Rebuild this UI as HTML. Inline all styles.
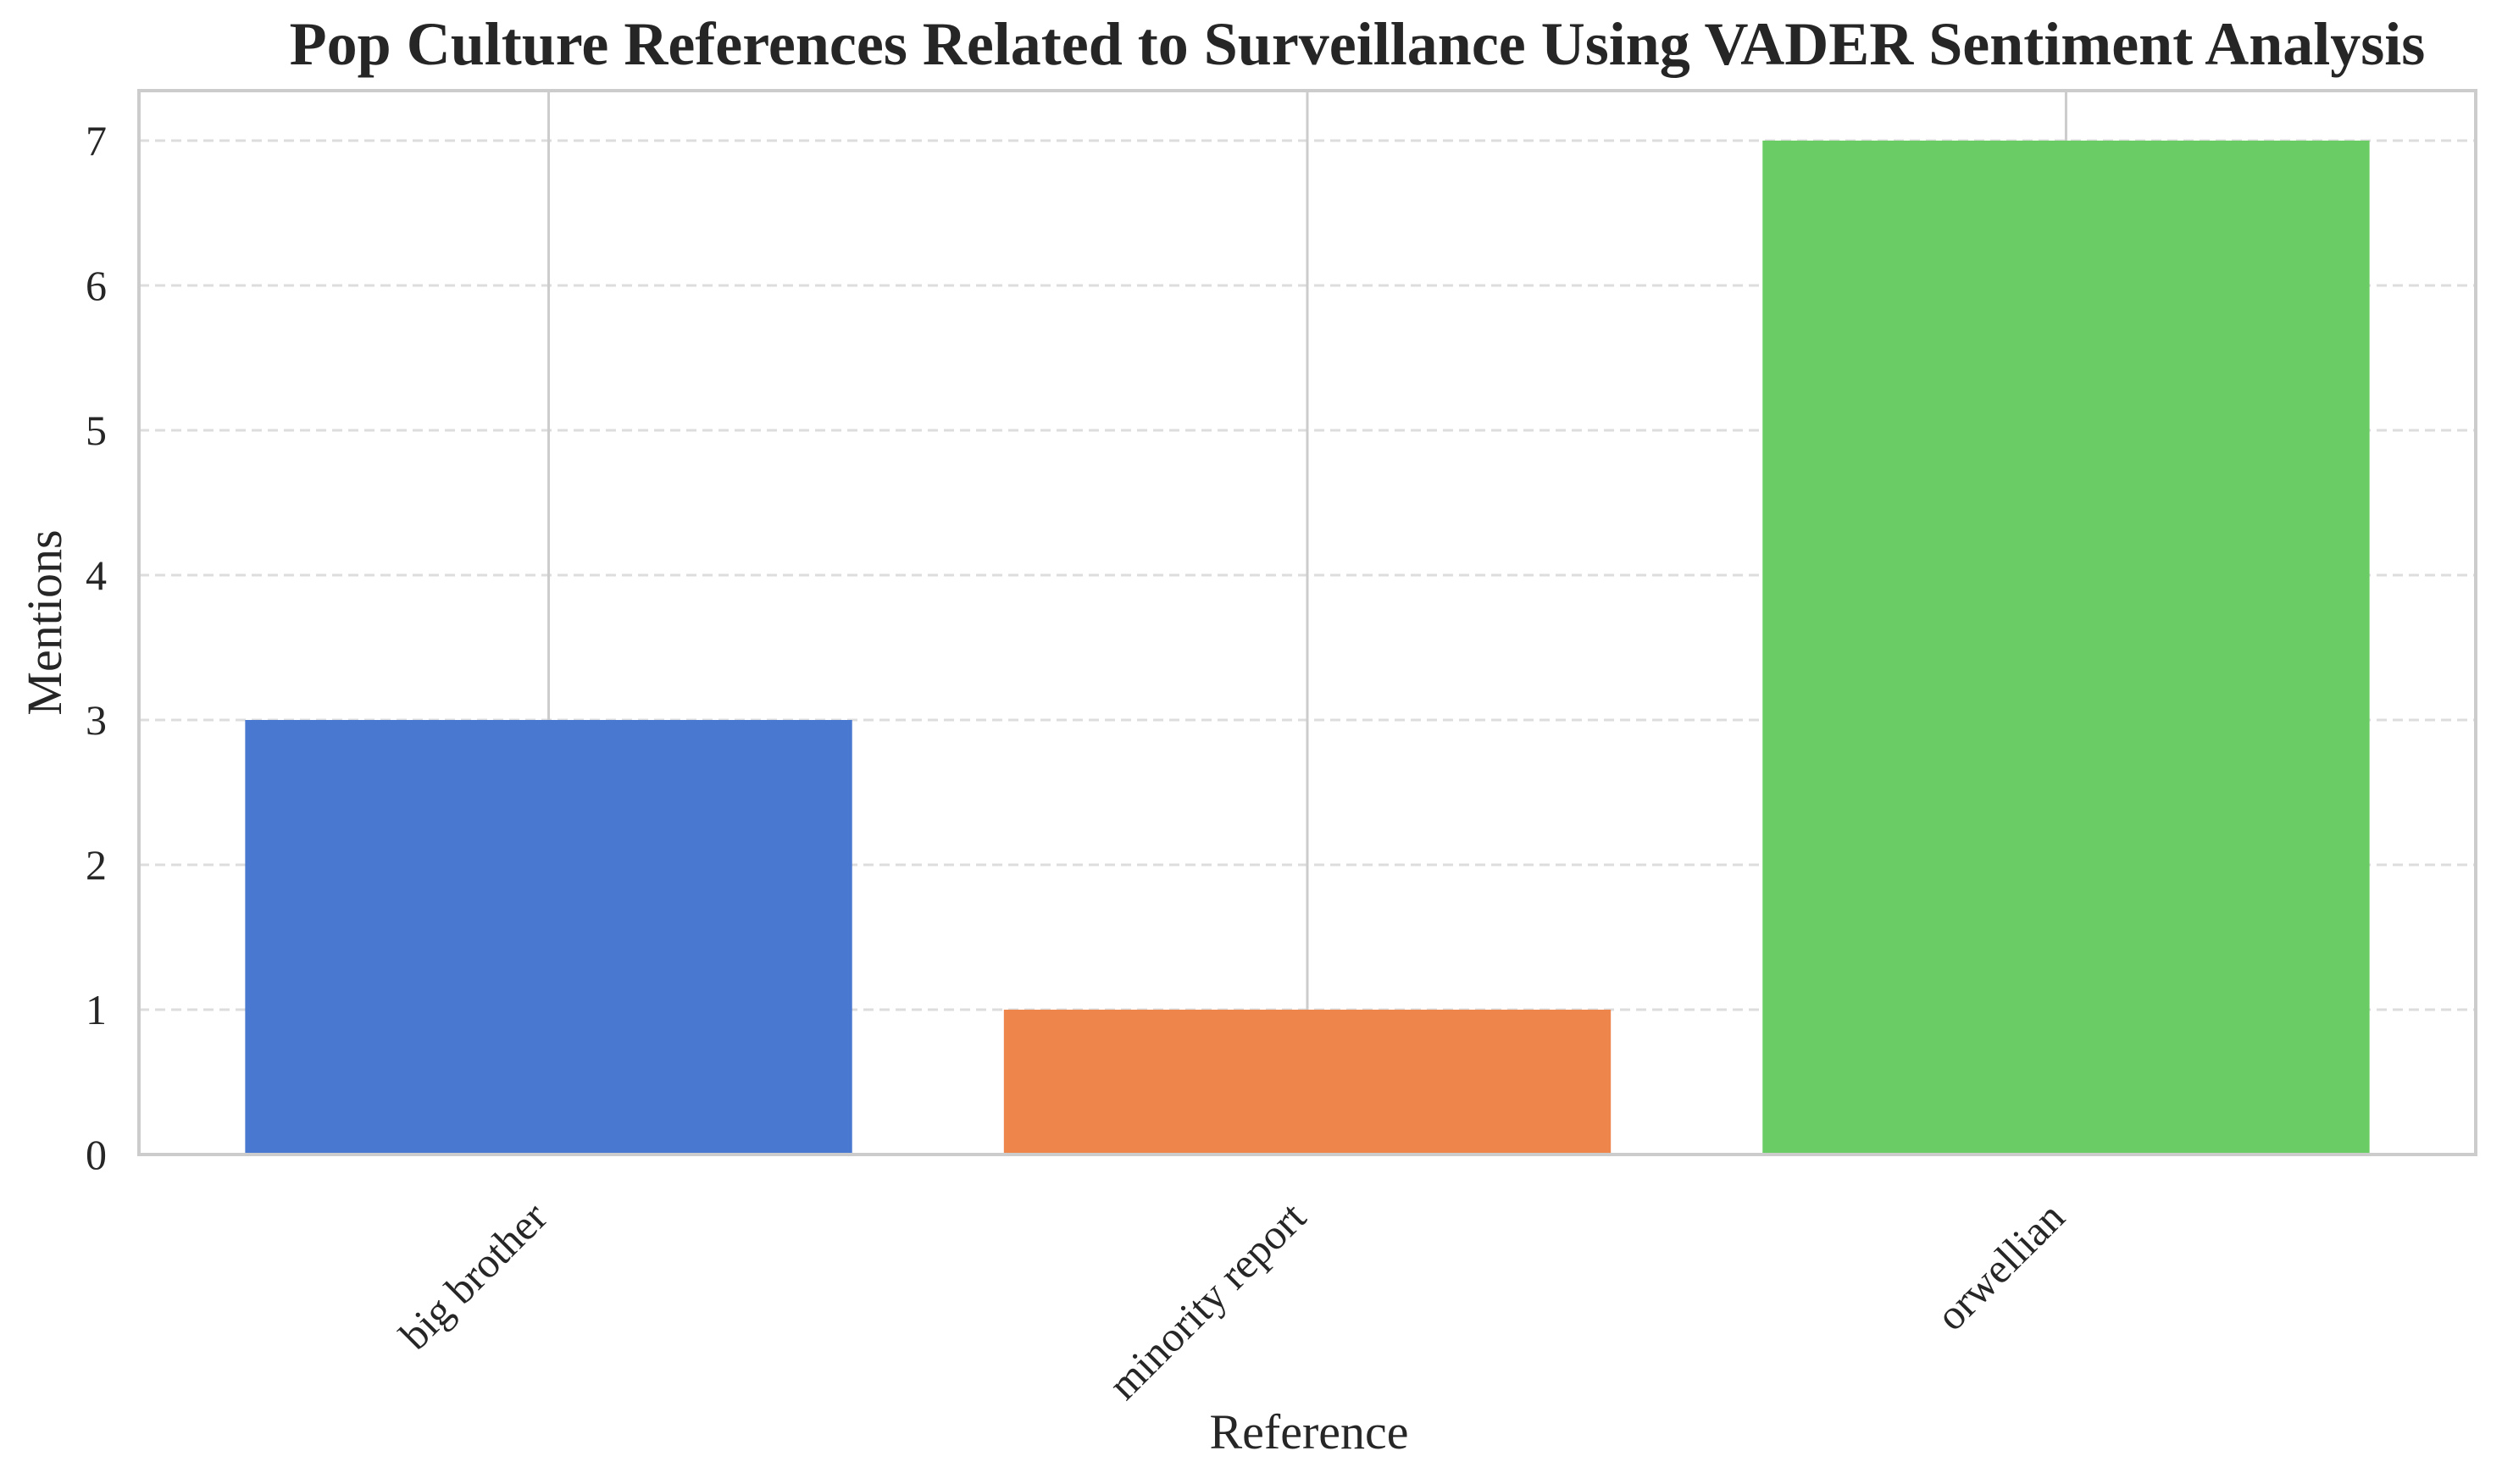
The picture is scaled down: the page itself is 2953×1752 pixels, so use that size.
<!DOCTYPE html>
<html><head><meta charset="utf-8"><style>
html,body{margin:0;padding:0;background:#fff;}
svg{display:block;font-family:"Liberation Serif",serif;}
</style></head><body>
<svg id="chart" width="2953" height="1752" viewBox="0 0 2953 1752" xmlns="http://www.w3.org/2000/svg">
<rect width="2953" height="1752" fill="#fff"/>
<text x="1602" y="76" text-anchor="middle" font-size="72" font-weight="bold" fill="#262626">Pop Culture References Related to Surveillance Using VADER Sentiment Analysis</text>
<g id="grid"></g>
<g id="bars"></g>
<g id="ticks"></g>
<rect x="164" y="107" width="2758" height="1256" fill="none" stroke="#cccccc" stroke-width="4"/>
<text transform="translate(72,735) rotate(-90)" text-anchor="middle" font-size="58" fill="#262626">Mentions</text>
<text x="1545" y="1710" text-anchor="middle" font-size="58" fill="#262626">Reference</text>
</svg>
<script>
const categories = ["big brother", "minority report", "orwellian"];
const mentions = [3, 1, 7];
const colors = ["#4878d0", "#ee854a", "#6acc64"];
const yTicks = [0, 1, 2, 3, 4, 5, 6, 7];

const NS = "http://www.w3.org/2000/svg";
const plotL = 164, plotR = 2922, plotT = 107, plotB = 1363;
const yScale = v => plotB - v * 171;
const slot = (plotR - plotL) / (categories.length - 1 + 1.08);
const xScale = i => plotL + slot * (0.54 + i);
const barW = slot * 0.8;

function mk(tag, attrs, parent) {
  const e = document.createElementNS(NS, tag);
  for (const k in attrs) e.setAttribute(k, attrs[k]);
  parent.appendChild(e);
  return e;
}
const grid = document.getElementById("grid");
const bars = document.getElementById("bars");
const ticks = document.getElementById("ticks");

yTicks.forEach(t => {
  const y = yScale(t);
  if (t > 0) {
    const l = mk("line", {x1: plotL, x2: plotR, y1: y, y2: y, stroke: "#dddddd", "stroke-width": 3, "stroke-dasharray": "12 7"}, grid);
    
    
  }
  const tx = mk("text", {x: 126, y: y + 17, "text-anchor": "end", "font-size": 50, fill: "#262626"}, ticks);
  tx.textContent = t;
  
  
});

categories.forEach((c, i) => {
  const cx = xScale(i);
  const g = mk("line", {x1: cx, x2: cx, y1: plotT, y2: plotB, stroke: "#cccccc", "stroke-width": 3}, grid);
  
  
  const y = yScale(mentions[i]);
  const r = mk("rect", {x: cx - barW / 2, y: y, width: barW, height: plotB - y, fill: colors[i]}, bars);
  
  
  const t = mk("text", {"text-anchor": "end", "font-size": 50, fill: "#262626", transform: "translate(" + (cx + 1) + ",1440) rotate(-45)"}, ticks);
  t.textContent = c;
  
  
});
</script>
</body></html>
